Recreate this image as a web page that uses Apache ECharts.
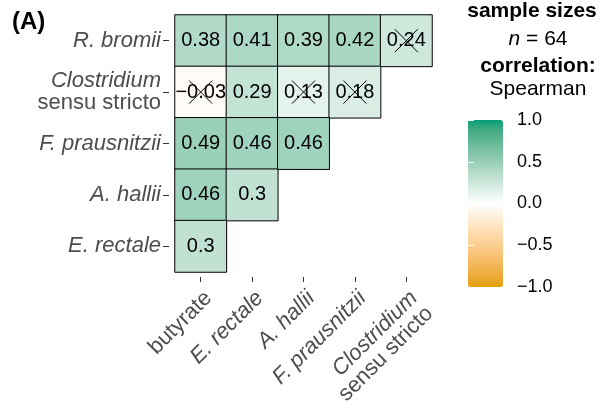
<!DOCTYPE html>
<html>
<head>
<meta charset="utf-8">
<script src="https://cdn.jsdelivr.net/npm/echarts@6/dist/echarts.min.js"></script>
<style>html,body{margin:0;padding:0;background:#fff;}#c{width:600px;height:416px;}</style>
</head>
<body>
<div id="c"></div>
<script>
// ---- data ----
const rowNames = ['R. bromii', 'Clostridium\nsensu stricto', 'F. prausnitzii', 'A. hallii', 'E. rectale'];
const colNames = ['butyrate', 'E. rectale', 'A. hallii', 'F. prausnitzii', 'Clostridium\nsensu stricto'];
const rBromii      = [0.38, 0.41, 0.39, 0.42, 0.24];
const clostridium  = [-0.03, 0.29, 0.13, 0.18];
const fPrausnitzii = [0.49, 0.46, 0.46];
const aHallii      = [0.46, 0.3];
const eRectale     = [0.3];
// non-significant flags (crossed out)
const rBromiiNS      = [false, false, false, false, true];
const clostridiumNS  = [true, false, true, true];
const fPrausnitziiNS = [false, false, false];
const aHalliiNS      = [false, false];
const eRectaleNS     = [false];
const colorTicks = [-1, -0.5, 0, 0.5, 1];
const sampleSize = 64;
const corrMethod = 'Spearman';

const rows = [rBromii, clostridium, fPrausnitzii, aHallii, eRectale];
const rowsNS = [rBromiiNS, clostridiumNS, fPrausnitziiNS, aHalliiNS, eRectaleNS];
const heatData = [], crossData = [];
rows.forEach((vals, r) => vals.forEach((v, c) => {
  heatData.push([c, r, v]);
  if (rowsNS[r][c]) crossData.push([c, r]);
}));

// ---- Lab colour interpolation (like ggplot2 gradient2) ----
function hex2rgb(h){h=h.replace('#','');return [0,2,4].map(i=>parseInt(h.substr(i,2),16));}
function s2l(c){c/=255;return c<=0.04045?c/12.92:Math.pow((c+0.055)/1.055,2.4);}
function l2s(c){const v=c<=0.0031308?12.92*c:1.055*Math.pow(c,1/2.4)-0.055;return Math.round(Math.min(1,Math.max(0,v))*255);}
function rgb2lab(rgb){const [r,g,b]=rgb.map(s2l);
  const X=(0.4124*r+0.3576*g+0.1805*b)/0.95047,Y=(0.2126*r+0.7152*g+0.0722*b),Z=(0.0193*r+0.1192*g+0.9505*b)/1.08883;
  const f=t=>t>0.008856?Math.cbrt(t):7.787*t+16/116;
  return [116*f(Y)-16,500*(f(X)-f(Y)),200*(f(Y)-f(Z))];}
function lab2rgb(lab){const fy=(lab[0]+16)/116,fx=fy+lab[1]/500,fz=fy-lab[2]/200;
  const fi=t=>t*t*t>0.008856?t*t*t:(t-16/116)/7.787;
  const X=fi(fx)*0.95047,Y=fi(fy),Z=fi(fz)*1.08883;
  const r=3.2406*X-1.5372*Y-0.4986*Z,g=-0.9689*X+1.8758*Y+0.0415*Z,b=0.0557*X-0.2040*Y+1.0570*Z;
  return 'rgb('+[r,g,b].map(l2s).join(',')+')';}
const lowC=rgb2lab(hex2rgb('#E69F00')), midC=rgb2lab(hex2rgb('#FFFFFF')), highC=rgb2lab(hex2rgb('#009E73'));
const stops=[];
for(let i=0;i<=40;i++){const t=-1+i*0.05;const e=t<0?lowC:highC;const a=Math.abs(t);
  stops.push(lab2rgb([0,1,2].map(k=>midC[k]+(e[k]-midC[k])*a)));}

const FF = '"Liberation Sans", Arial, Helvetica, sans-serif';
const gray = '#4D4D4D';
function fmtName(name){
  if (name.indexOf('\n') >= 0){const p=name.split('\n');return '{i|'+p[0]+'}\n{n|'+p[1]+'}';}
  if (name === 'butyrate') return '{n|'+name+'}';
  return '{i|'+name+'}';
}
const rich = {
  i:{fontStyle:'italic',fontSize:22,color:gray,fontFamily:FF,lineHeight:22},
  n:{fontSize:22,color:gray,fontFamily:FF,lineHeight:22}
};

const chart = echarts.init(document.getElementById('c'), null, {renderer:'canvas'});
chart.setOption({
  animation:false,
  textStyle:{fontFamily:FF},
  grid:[
    {left:175, top:15, width:257, height:257},
    {left:468, top:120, width:35, height:167}
  ],
  xAxis:[
    {type:'category', data:colNames, gridIndex:0, position:'bottom', offset:5,
     axisLine:{show:false}, splitLine:{show:false},
     axisTick:{show:true, alignWithLabel:true, length:5, lineStyle:{color:'#333', width:1}},
     axisLabel:{rotate:45, margin:10, interval:0, verticalAlign:'top', formatter:fmtName, rich:rich}},
    {type:'value', gridIndex:1, show:false, min:0, max:1}
  ],
  yAxis:[
    {type:'category', data:rowNames, gridIndex:0, inverse:true, offset:6,
     axisLine:{show:false}, splitLine:{show:false},
     axisTick:{show:true, alignWithLabel:true, length:6, lineStyle:{color:'#333', width:1}},
     axisLabel:{margin:8, interval:0, formatter:fmtName, rich:rich}},
    {type:'value', gridIndex:1, min:-1, max:1, interval:0.5, position:'right', z:10,
     axisLine:{show:false}, splitLine:{show:false},
     axisTick:{show:true, inside:true, length:6, lineStyle:{color:'#fff', width:1}},
     axisLabel:{margin:14, fontSize:18, color:'#000', fontFamily:FF,
       formatter:v=>(v.toFixed(1)).replace('-','\u2212')}},
    {type:'value', gridIndex:1, min:-1, max:1, interval:0.5, position:'left', z:10,
     axisLine:{show:false}, splitLine:{show:false},
     axisTick:{show:true, inside:true, length:6, lineStyle:{color:'#fff', width:1}},
     axisLabel:{show:false}}
  ],
  visualMap:{
    type:'continuous', min:-1, max:1, calculable:false, orient:'vertical',
    left:468, top:120, itemWidth:35, itemHeight:167, padding:0, seriesIndex:0,
    hoverLink:false, inRange:{color:stops}
  },
  graphic:[
    {type:'text', x:12, y:22, style:{text:'(A)', fontSize:24, fontWeight:'bold', fontFamily:FF, fill:'#000', textVerticalAlign:'middle'}},
    {type:'text', x:532, y:11, style:{text:'sample sizes', fontSize:21, fontWeight:'bold', fontFamily:FF, fill:'#000', textAlign:'center', textVerticalAlign:'middle'}},
    {type:'text', x:538, y:39, style:{text:'{i|n} = '+sampleSize, fontSize:21, fontFamily:FF, fill:'#000', textAlign:'center', textVerticalAlign:'middle',
       rich:{i:{fontStyle:'italic', fontSize:21, fontFamily:FF, fill:'#000'}}}},
    {type:'text', x:538, y:66, style:{text:'correlation:', fontSize:21, fontWeight:'bold', fontFamily:FF, fill:'#000', textAlign:'center', textVerticalAlign:'middle'}},
    {type:'text', x:538, y:89, style:{text:corrMethod, fontSize:21, fontFamily:FF, fill:'#000', textAlign:'center', textVerticalAlign:'middle'}}
  ],
  series:[
    {type:'heatmap', xAxisIndex:0, yAxisIndex:0, data:heatData,
     itemStyle:{borderColor:'#000', borderWidth:1},
     label:{show:true, fontSize:20, color:'#000', fontFamily:FF,
       formatter:p=>String(p.value[2]).replace('-','\u2212')},
     emphasis:{disabled:true}},
    {type:'custom', xAxisIndex:0, yAxisIndex:0, data:crossData, z:5, silent:true,
     renderItem:function(params, api){
       const p = api.coord([api.value(0), api.value(1)]);
       const h = 11.5;
       return {type:'group', children:[
         {type:'line', shape:{x1:p[0]-h, y1:p[1]-h, x2:p[0]+h, y2:p[1]+h}, style:{stroke:'#000', lineWidth:1}},
         {type:'line', shape:{x1:p[0]-h, y1:p[1]+h, x2:p[0]+h, y2:p[1]-h}, style:{stroke:'#000', lineWidth:1}}
       ]};
     }}
  ]
});
</script>
</body>
</html>
